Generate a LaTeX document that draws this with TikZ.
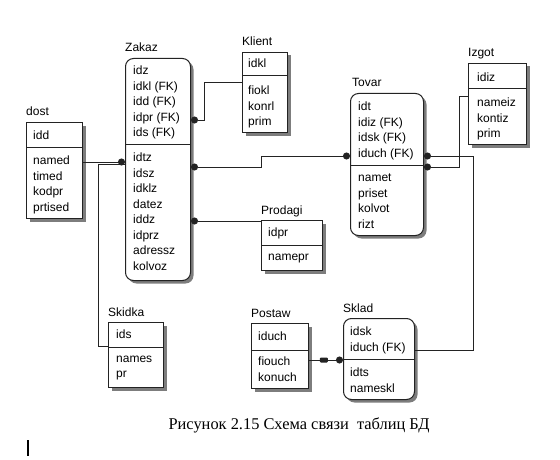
\documentclass[tikz,border=0pt]{standalone}
\usepackage{fontspec}
\setmainfont{Liberation Serif}
\setsansfont{Liberation Sans}
\usetikzlibrary{positioning, arrows.meta, shadows, calc}
\definecolor{erLine}{RGB}{35, 35, 35}
\definecolor{erShade}{RGB}{125, 125, 125}

\begin{document}
\begin{tikzpicture}[x=1pt, y=-1pt, >={Circle[length=7pt]},
    ent/.style={draw=erLine, fill=white, line width=1pt, inner sep=0pt, anchor=north west,
                drop shadow={shadow xshift=3pt, shadow yshift=-3pt, fill=erShade, opacity=1}},
    rent/.style={ent, rounded corners=8pt},
    ttl/.style={anchor=base west, yshift=6pt, inner sep=0pt, font=\fontsize{12}{14}\sffamily},
    fld/.style={anchor=north west, align=left, inner sep=0pt, font=\fontsize{12}{15.5}\sffamily},
    lnk/.style={draw=erLine, line width=1pt},
    onebar/.style={fill=erLine, rounded corners=1pt, minimum width=8pt, minimum height=5pt, inner sep=0pt}]
  \fill[white] (0,0) rectangle (560,460);
  \useasboundingbox (0,0) rectangle (560,460);

  % tables
  \node[rent, minimum width=65, minimum height=222] (zakaz) at (125,58) {};
  \node[ent, minimum width=45, minimum height=80] (klient) at (242,52) {};
  \node[rent, minimum width=73, minimum height=142] (tovar) at (350,93) {};
  \node[ent, minimum width=58, minimum height=81] (izgot) at (468,63) {};
  \node[ent, minimum width=61, minimum height=50] (prodagi) at (261,220) {};
  \node[ent, minimum width=56, minimum height=96] (dost) at (26,122) {};
  \node[ent, minimum width=55, minimum height=65] (skidka) at (108,322) {};
  \node[ent, minimum width=57, minimum height=65] (postaw) at (251,323) {};
  \node[rent, minimum width=71, minimum height=81] (sklad) at (343,318) {};

  % key / attribute dividers
  \draw[lnk] (zakaz.west |- 0,144) -- (zakaz.east |- 0,144);
  \draw[lnk] (klient.west |- 0,76) -- (klient.east |- 0,76);
  \draw[lnk] (tovar.west |- 0,165) -- (tovar.east |- 0,165);
  \draw[lnk] (izgot.west |- 0,89) -- (izgot.east |- 0,89);
  \draw[lnk] (prodagi.west |- 0,245) -- (prodagi.east |- 0,245);
  \draw[lnk] (dost.west |- 0,147) -- (dost.east |- 0,147);
  \draw[lnk] (skidka.west |- 0,347) -- (skidka.east |- 0,347);
  \draw[lnk] (postaw.west |- 0,350) -- (postaw.east |- 0,350);
  \draw[lnk] (sklad.west |- 0,359) -- (sklad.east |- 0,359);

  % titles
  \node[ttl] (zakazT) at (zakaz.north west) {Zakaz};
  \node[ttl] (klientT) at (klient.north west) {Klient};
  \node[ttl, xshift=2pt] (tovarT) at (tovar.north west) {Tovar};
  \node[ttl] (izgotT) at (izgot.north west) {Izgot};
  \node[ttl] (prodagiT) at (prodagi.north west) {Prodagi};
  \node[ttl] (dostT) at (dost.north west) {dost};
  \node[ttl] (skidkaT) at (skidka.north west) {Skidka};
  \node[ttl] (postawT) at (postaw.north west) {Postaw};
  \node[ttl] (skladT) at (sklad.north west) {Sklad};

  % fields
  \node[fld] (zakazK) at (133,65.8) {idz\\idkl (FK)\\idd (FK)\\idpr (FK)\\ids (FK)};
  \node[fld] (zakazA) at (133,152.8) {idtz\\idsz\\idklz\\datez\\iddz\\idprz\\adressz\\kolvoz};
  \node[fld] (klientK) at (248,58.8) {idkl};
  \node[fld] (klientA) at (248,85.8) {fiokl\\konrl\\prim};
  \node[fld] (tovarK) at (358,101.8) {idt\\idiz (FK)\\idsk (FK)\\iduch (FK)};
  \node[fld] (tovarA) at (358,173.8) {namet\\priset\\kolvot\\rizt};
  \node[fld] (izgotK) at (477,72.8) {idiz};
  \node[fld] (izgotA) at (477,97.8) {nameiz\\kontiz\\prim};
  \node[fld] (prodagiK) at (268,227.8) {idpr};
  \node[fld] (prodagiA) at (268,253.8) {namepr};
  \node[fld] (dostK) at (33,130.8) {idd};
  \node[fld] (dostA) at (33,155.8) {named\\timed\\kodpr\\prtised};
  \node[fld] (skidkaK) at (116,329.8) {ids};
  \node[fld] (skidkaA) at (116,355.8) {names\\pr};
  \node[fld] (postawK) at (258,331.8) {iduch};
  \node[fld] (postawA) at (258,356.8) {fiouch\\konuch};
  \node[fld] (skladK) at (350,326.8) {idsk\\iduch (FK)};
  \node[fld] (skladA) at (350,367.8) {idts\\nameskl};

  % relationships
  \draw[lnk, <-] (zakaz.east |- 0,120) -- ++(13,0) |- (klient.west |- 0,83);
  \draw[lnk, ->] (dost.east |- 0,162) -- (zakaz.west |- 0,162);
  \draw[lnk] (zakaz.west |- 0,164.5) -- ++(-27,0) |- (skidka.west |- 0,346);
  \draw[lnk, <->] (zakaz.east |- 0,167) -- ++(70,0) |- (tovar.west |- 0,156);
  \draw[lnk, <-] (zakaz.east |- 0,221) -- (prodagi.west |- 0,221);
  \draw[lnk, <-] (tovar.east |- 0,167) -- ++(35,0) |- (izgot.west |- 0,97);
  \draw[lnk, <-] (tovar.east |- 0,156) -- ++(49,0) |- (sklad.east |- 0,350);
  \draw[lnk, ->] (postaw.east |- 0,360) -- node[onebar, pos=0.44] (bar) {} (sklad.west |- 0,360);

  % caption and cursor
  \node[anchor=base, inner sep=0pt, font=\fontsize{16.4}{19}\rmfamily] (caption) at (299,429)
    {Рисунок 2.15 Схема связи\ \ таблиц БД};
  \draw[line width=1.6pt] (28,440) -- (28,456);
\end{tikzpicture}
\end{document}
